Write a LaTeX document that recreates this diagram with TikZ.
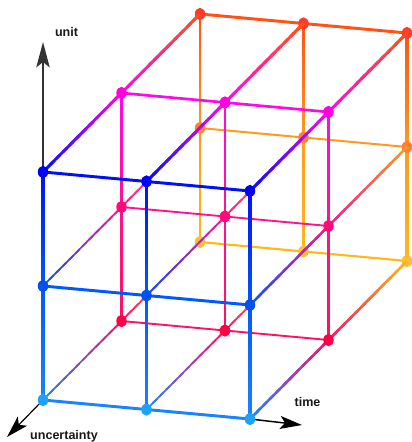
\documentclass[tikz,border=0pt]{standalone}
\usepackage{fontspec}
\setmainfont{Liberation Sans}
\usetikzlibrary{calc,arrows.meta,shapes.geometric}
% line colours L<j><k>  (j = unit level, k = depth plane)
\definecolor{L20}{HTML}{0010F5}
\definecolor{L10}{HTML}{0058FF}
\definecolor{L00}{HTML}{1A84FF}
\definecolor{L21}{HTML}{FF08E6}
\definecolor{L11}{HTML}{FF1290}
\definecolor{L01}{HTML}{FF1060}
\definecolor{L22}{HTML}{FF5214}
\definecolor{L12}{HTML}{FF9A1E}
\definecolor{L02}{HTML}{FFB818}
% dot colours
\definecolor{D20}{HTML}{0000FF}
\definecolor{D10}{HTML}{0050EE}
\definecolor{D00}{HTML}{1EA2F8}
\definecolor{D21}{HTML}{FF00E0}
\definecolor{D11}{HTML}{FF0A78}
\definecolor{D01}{HTML}{FF0045}
\definecolor{D22}{HTML}{FF3C28}
\definecolor{D12}{HTML}{FF8030}
\definecolor{D02}{HTML}{FFBE32}
% diagonal gradient edge: from, to, colour at from, colour at to, width
\newcommand\gradseg[5]{%
  \foreach \s in {0,...,11} {
    \pgfmathsetmacro\ta{\s/12}
    \pgfmathsetmacro\tb{min(1,(\s+1.6)/12)}
    \pgfmathtruncatemacro\pc{100-100*(\s+0.5)/12}
    \draw[line width=#5, line cap=butt, color=#3!\pc!#4] ($(#1)!\ta!(#2)$) -- ($(#1)!\tb!(#2)$);
  }}
% vertical gradient edge: upper, lower, top colour, bottom colour, half width (px)
\newcommand\vgrad[5]{%
  \shade[top color=#3, bottom color=#4] ($(#1)+(-#5,0)$) rectangle ($(#2)+(#5,0)$);}
\begin{document}
\begin{tikzpicture}[x=0.75pt,y=-0.75pt,
  dot/.style={ellipse, inner sep=0pt, minimum width=7.8pt, minimum height=9.2pt, draw=none},
  lbl/.style={font=\bfseries\fontsize{9.4}{11}\selectfont, text=black!90, anchor=base, inner sep=0pt},
  axis/.style={color=black, -{Stealth[length=16.5pt, width=9.75pt, inset=3.75pt]}}]
\useasboundingbox (0,0) rectangle (411,442);
% lattice points
\foreach \i in {0,1,2} \foreach \j in {0,1,2} \foreach \k in {0,1,2} {
  \pgfmathsetmacro\px{43+103.5*\i+78.5*\k}
  \pgfmathsetmacro\py{400-114*\j-79*\k+9.5*\i}
  \coordinate (p\i\j\k) at (\px,\py);
}
\coordinate (utip) at (43,42);
\coordinate (ctip) at (7,437);
\coordinate (ttip) at (302,425);
% axes
\draw[axis, line width=1.5pt, color=black!80, -{Stealth[length=19pt, width=10pt, inset=4pt]}] (p020) -- (utip);
\draw[axis, line width=0.9pt] (p000) -- (ctip);
\draw[axis, line width=1.1pt] (p200) -- (ttip);
% ---------- back plane (k=2)
\foreach \j/\w in {2/2.2pt,1/1.5pt,0/1.6pt}
  \draw[line width=\w, color=L\j2] (p0\j2) -- (p1\j2) -- (p2\j2);
\foreach \i/\h in {0/1.0,1/0.85,2/1.35} {
  \vgrad{p\i22}{p\i12}{L22}{L12}{\h}
  \vgrad{p\i12}{p\i02}{L12}{L02}{\h}
}
\foreach \i in {0,1,2} \foreach \j in {0,1,2}
  \node[dot, fill=D\j2] (d\i\j2) at (p\i\j2) {};
% ---------- depth edges middle -> back
\foreach \i/\j/\w in {0/2/2.2pt,1/2/2.2pt,2/2/2.2pt,0/1/1.3pt,1/1/1.3pt,2/1/1.8pt,0/0/1.3pt,1/0/1.3pt,2/0/1.9pt}
  \gradseg{p\i\j1}{p\i\j2}{L\j1}{L\j2}{\w};
% ---------- middle plane (k=1)
\foreach \j/\w in {2/2pt,1/1.4pt,0/1.4pt}
  \draw[line width=\w, color=L\j1] (p0\j1) -- (p1\j1) -- (p2\j1);
\foreach \i/\h in {0/0.85,1/0.85,2/1.15} {
  \vgrad{p\i21}{p\i11}{L21}{L11}{\h}
  \vgrad{p\i11}{p\i01}{L11}{L01}{\h}
}
% ---------- depth edges front -> middle
\foreach \i/\j/\w in {0/2/2.2pt,1/2/2.2pt,2/2/2.2pt,0/1/1.3pt,1/1/1.3pt,2/1/1.8pt,0/0/1.3pt,1/0/1.3pt,2/0/1.9pt}
  \gradseg{p\i\j0}{p\i\j1}{L\j0}{L\j1}{\w};
\foreach \i in {0,1,2} \foreach \j in {0,1,2}
  \node[dot, fill=D\j1] (d\i\j1) at (p\i\j1) {};
% ---------- front plane (k=0)
\foreach \j in {2,1,0}
  \draw[line width=2.2pt, color=L\j0] (p0\j0) -- (p1\j0) -- (p2\j0);
\foreach \i in {0,1,2} {
  \vgrad{p\i20}{p\i10}{L20}{L10}{1.4}
  \vgrad{p\i10}{p\i00}{L10}{L00}{1.4}
}
\foreach \i in {0,1,2} \foreach \j in {0,1,2}
  \node[dot, fill=D\j0] (d\i\j0) at (p\i\j0) {};
% labels
\node[lbl] (lu) at (66.5,37) {unit};
\node[lbl] (lt) at (307.5,406) {time};
\node[lbl] (lc) at (64,439) {uncertainty};
\end{tikzpicture}
\end{document}
